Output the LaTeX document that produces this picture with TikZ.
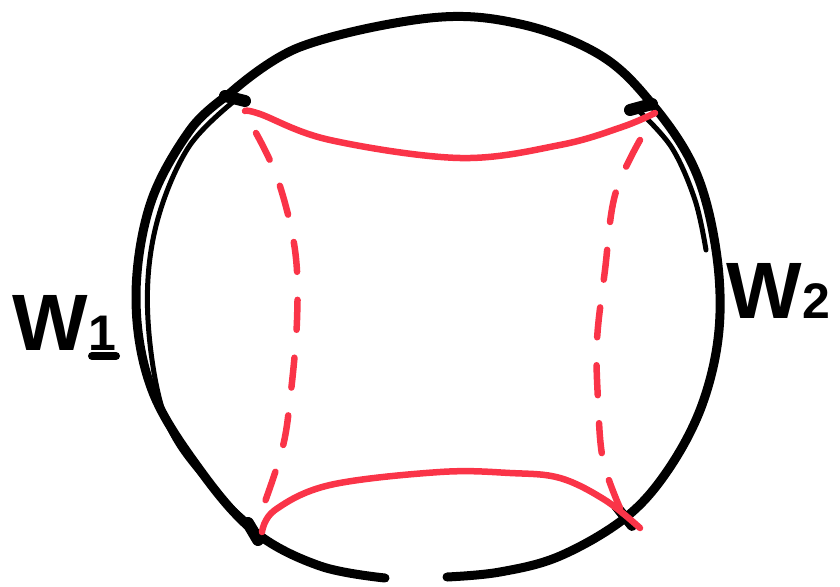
\documentclass[tikz,border=0pt]{standalone}
\usepackage{fontspec}
\setmainfont{Liberation Sans}
\begin{document}
\begin{tikzpicture}[x=1pt,y=-1pt,
  blk/.style={line width=9pt,line cap=round,line join=round,black},
  blkthin/.style={line width=5pt,line cap=round,black},
  redc/.style={line width=6.5pt,line cap=round,draw={rgb,255:red,250;green,52;blue,72}},
  reddash/.style={redc,dash pattern=on 30pt off 28pt},
  lbl/.style={font=\bfseries\fontsize{80}{80}\selectfont}]
\useasboundingbox (0,0) rectangle (840,586);
% outer circle, right/upper arc
\draw[blk] plot[smooth,tension=0.6] coordinates {(228,95) (300,47) (430,18) (520,24) (600,55) (652,104) (695,170) (716,250) (719,330) (702,405) (668,470) (625,518) (560,556) (500,572) (447,577)};
% left/lower arc
\draw[blk] plot[smooth,tension=0.6] coordinates {(385,578) (320,566) (255,532) (200,470) (152,390) (136,300) (150,205) (190,130) (228,95)};
% double strokes
\draw[blkthin] plot[smooth,tension=0.6] coordinates {(238,98) (188,148) (155,230) (148,320) (166,420) (210,485) (255,528)};
\draw[blkthin] plot[smooth,tension=0.6] coordinates {(640,112) (672,148) (695,200) (706,250)};
% intersection blobs
\draw[blk,line width=12pt] (225,96) -- (245,101);
\draw[blk,line width=12pt] (630,110) -- (652,104);
\draw[blk,line width=12pt] (248,523) -- (258,540);
\draw[blk,line width=10pt] (616,506) -- (632,526);
% red solid curves
\draw[redc] plot[smooth,tension=0.6] coordinates {(245,111) (260,114) (330,140) (460,158) (560,145) (622,127) (655,113)};
\draw[redc] plot[smooth,tension=0.6] coordinates {(262,532) (275,510) (330,485) (440,472) (510,473) (560,478) (605,500) (640,528)};
% red dashed
\draw[reddash] plot[smooth,tension=0.6] coordinates {(256,133) (278,180) (295,250) (297,320) (290,400) (282,450) (262,510)};
\draw[reddash] plot[smooth,tension=0.6] coordinates {(640,140) (615,195) (605,270) (597,340) (598,400) (603,460) (620,508)};
% labels
\node[lbl,inner sep=0,anchor=base west] (w1) at (12,350) {W};
\node[font=\bfseries\fontsize{50}{50}\selectfont,inner sep=0,anchor=base west] (n1) at (w1.base east) {1};
\draw[blk,line width=8pt] (92,356) -- (116,356);
\node[lbl,inner sep=0,anchor=base west] (w2) at (726,318) {W};
\node[font=\bfseries\fontsize{50}{50}\selectfont,inner sep=0,anchor=base west] (n2) at (w2.base east) {2};
\end{tikzpicture}
\end{document}
